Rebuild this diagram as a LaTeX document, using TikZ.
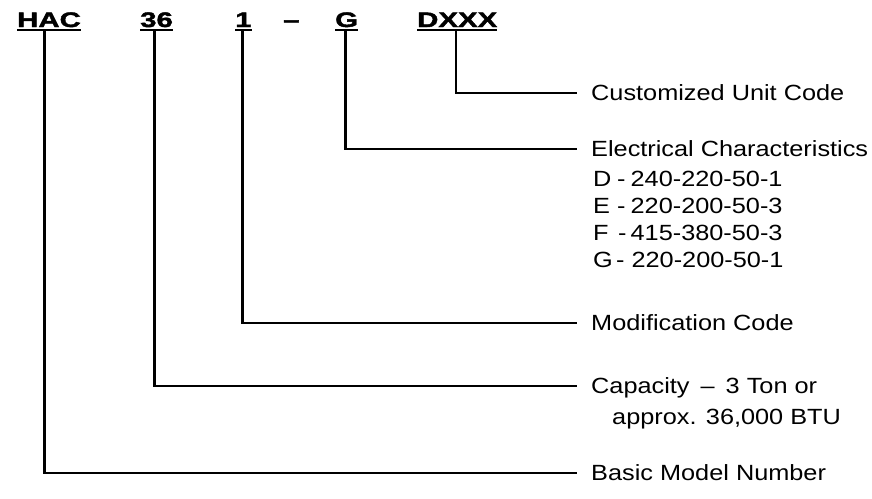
\documentclass[tikz,border=0pt]{standalone}
\usepackage{fontspec}
\newfontfamily\lblfont[FakeStretch=1.15]{Liberation Sans}
\newfontfamily\hdrfont{Liberation Sans}[FakeStretch=1.4,BoldFeatures={FakeStretch=1.4,FakeBold=2}]
\begin{document}
\begin{tikzpicture}[x=1pt,y=-1pt,
  hdr/.style={anchor=base west,inner sep=0pt,font=\hdrfont\bfseries\fontsize{21}{25}\selectfont},
  lbl/.style={anchor=west,inner ysep=0pt,inner xsep=0pt,text height=15.75pt,text depth=0pt,font=\lblfont\fontsize{22}{27}\selectfont},
  tag/.style={lbl,inner xsep=14pt},
  uline/.style={line width=2.2pt},
  conn/.style={line width=2.4pt}]
\fill[white] (0,0) rectangle (872,498);
\useasboundingbox (0,0) rectangle (872,498);
% header
\node[hdr] (hac) at (17,27) {HAC};
\node[hdr] (cap36) at (140,27) {36};
\node[hdr] (one) at (235,27) {1};
\node[hdr] (dash) at (283,27) {–};
\node[hdr] (g) at (335,27) {G};
\node[hdr] (dxxx) at (417,27) {DXXX};
\foreach \n in {hac,cap36,one,g,dxxx}
  \draw[uline] ([yshift=-3pt]\n.base west) -- ([yshift=-3pt]\n.base east);
% labels
\node[tag] (cust) at (577,93) {Customized Unit Code};
\node[tag] (elec) at (577,149) {Electrical Characteristics};
\node[lbl] (rd) at (593,179) {\makebox[24pt][l]{D}-\hspace{5pt}240-220-50-1};
\node[lbl] (re) at (593,206) {\makebox[24pt][l]{E}-\hspace{5pt}220-200-50-3};
\node[lbl] (rf) at (593,233) {\makebox[25pt][l]{F}-\hspace{4pt}415-380-50-3};
\node[lbl] (rg) at (593,260) {\makebox[23pt][l]{G}-\hspace{7pt}220-200-50-1};
\node[tag] (mod) at (577,323) {Modification Code};
\node[tag] (capa) at (577,386) {Capacity\hspace{0.5em}–\hspace{0.5em}3 Ton or};
\node[lbl] (capb) at (612,417) {approx. 36,000 BTU};
\node[tag] (basic) at (577,473) {Basic Model Number};
% connectors
\draw[conn] ([xshift=-1.5pt,yshift=-3pt]dxxx.base) |- (cust.west);
\draw[conn] ([xshift=-1pt,yshift=-3pt]g.base) |- (elec.west);
\draw[conn] ([xshift=-1pt,yshift=-3pt]one.base) |- (mod.west);
\draw[conn] ([xshift=-2pt,yshift=-3pt]cap36.base) |- (capa.west);
\draw[conn] ([xshift=-4.5pt,yshift=-3pt]hac.base) |- (basic.west);
\end{tikzpicture}
\end{document}
